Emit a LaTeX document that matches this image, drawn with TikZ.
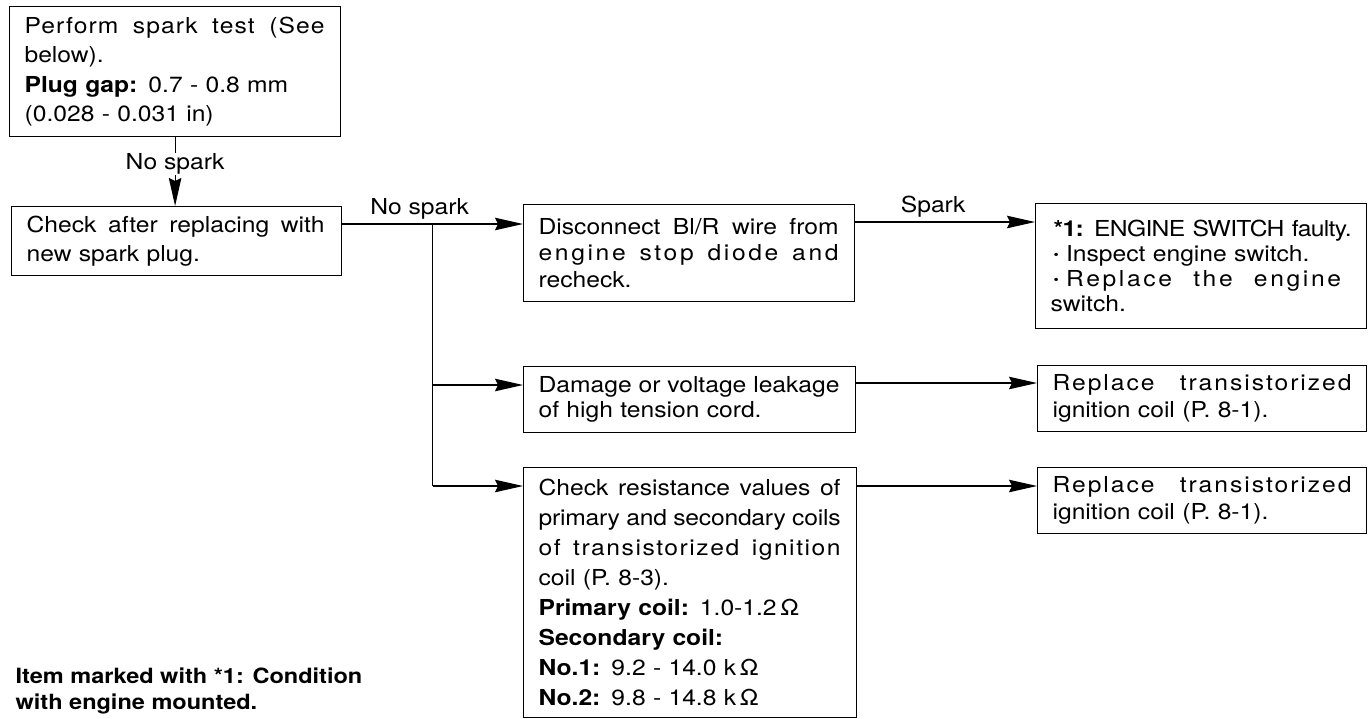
\documentclass[tikz,border=0pt]{standalone}
\usepackage{fontspec}
\setmainfont{TeX Gyre Heros}[FakeStretch=1.12]
\usetikzlibrary{arrows.meta,calc}
% justified line: [letter spacing]{width}{text}
\newcommand\jl[3][0]{\makebox[#2][s]{\addfontfeature{LetterSpace=#1}\spaceskip=0.28em plus 1fil minus 0.1em\relax #3}}
\newcommand\nl[1]{\mbox{#1}}
\newcommand\bul{\raisebox{0.2ex}{\scalebox{0.6}{•}}}
\begin{document}
\begin{tikzpicture}[x=1pt,y=-1pt,line width=1.2pt,
  >={Stealth[length=28pt,width=12.5pt,inset=3pt]},
  box/.style={draw,line width=1.2pt,anchor=north west,inner xsep=15pt,inner ysep=0pt,
    align=left,font=\fontsize{22}{#1}\selectfont},
  box/.default=29.5,
  lbl/.style={inner sep=1pt,font=\fontsize{22}{26}\selectfont},
  note/.style={anchor=north west,inner sep=0pt,align=left,font=\fontsize{21}{26}\selectfont\bfseries}]
\useasboundingbox (0,0) rectangle (1370,718);

\node[box,text width=301pt,minimum height=130pt] (A) at (9,6)
  {\jl[5]{300pt}{Perform spark test (See}\\
   \nl{below).}\\
   \nl{\textbf{Plug gap:} 0.7 - 0.8 mm}\\
   \nl{(0.028 - 0.031 in)}};
\node[box,text width=300pt,minimum height=69pt] (B) at (11,206)
  {\jl{298pt}{Check after replacing with}\\
   \nl{new spark plug.}};
\node[box=26.5,text width=301pt,minimum height=97pt] (C) at (523,204)
  {\jl{300pt}{Disconnect Bl/R wire from}\\
   \jl[12]{300pt}{engine stop diode and}\\
   \nl{recheck.}};
\node[box=25,text width=301pt,minimum height=125pt] (D) at (1035,203)
  {\jl[-3]{301pt}{\hspace*{3pt}\textbf{*1:} ENGINE SWITCH faulty.}\\
   \nl{\hspace*{3pt}\bul\ Inspect engine switch.}\\
   \nl{\hspace*{3pt}\bul\ \jl[12]{275pt}{Replace the engine}}\\
   \nl{switch.}};
\node[box=25,text width=302pt,minimum height=66pt] (E) at (523,366)
  {\jl{301pt}{Damage or voltage leakage}\\
   \nl{of high tension cord.}};
\node[box=27,text width=299pt,minimum height=66pt] (F) at (1037,365)
  {\jl[9]{299pt}{Replace transistorized}\\
   \nl{ignition coil (P. 8-1).}};
\node[box=30,text width=303pt,minimum height=250pt] (G) at (523,467)
  {\jl{302pt}{Check resistance values of}\\
   \jl[-1]{302pt}{primary and secondary coils}\\
   \jl[7]{302pt}{of transistorized ignition}\\
   \nl{coil (P. 8-3).}\\
   \nl{\textbf{Primary coil:} 1.0-1.2\,Ω}\\
   \nl{\textbf{Secondary coil:}}\\
   \nl{\textbf{No.1:} 9.2 - 14.0 k\,Ω}\\
   \nl{\textbf{No.2:} 9.8 - 14.8 k\,Ω}};
\node[box=27,text width=299pt,minimum height=66pt] (H) at (1037,467)
  {\jl[9]{299pt}{Replace transistorized}\\
   \nl{ignition coil (P. 8-1).}};

\node[note] (N) at (15,667) {Item marked with *1: Condition\\with engine mounted.};

% A -> B
\draw[->] (A.south) -- (A.south |- B.north);
\node[lbl,fill=white] (l1) at ($(A.south)!0.39!(A.south |- B.north)$) {No spark};

% B -> C and branches
\coordinate (b1) at ([yshift=-18pt]B.north east);
\coordinate (j) at ($(b1)!0.5!(b1 -| C.west)$);
\coordinate (e1) at ([yshift=-19pt]E.north west);
\coordinate (g1) at ([yshift=-19pt]G.north west);
\draw[->] (b1) -- (b1 -| C.west);
\node[lbl,anchor=base] (l2) at ([xshift=-13pt,yshift=10pt]j) {No spark};
\draw (j) -- (j |- g1);
\draw[->] (j |- e1) -- (e1);
\draw[->] (j |- g1) -- (g1);

% C -> D
\coordinate (c1) at ([yshift=-18pt]C.north east);
\draw[->] (c1) -- (c1 -| D.west);
\node[lbl,anchor=base] (l3) at ([xshift=-12pt,yshift=10pt]$(c1)!0.5!(c1 -| D.west)$) {Spark};

% E -> F, G -> H
\coordinate (e2) at ([yshift=-17pt]E.north east);
\draw[->] (e2) -- (e2 -| F.west);
\coordinate (g2) at ([yshift=-19pt]G.north east);
\draw[->] (g2) -- (g2 -| H.west);
\end{tikzpicture}
\end{document}
